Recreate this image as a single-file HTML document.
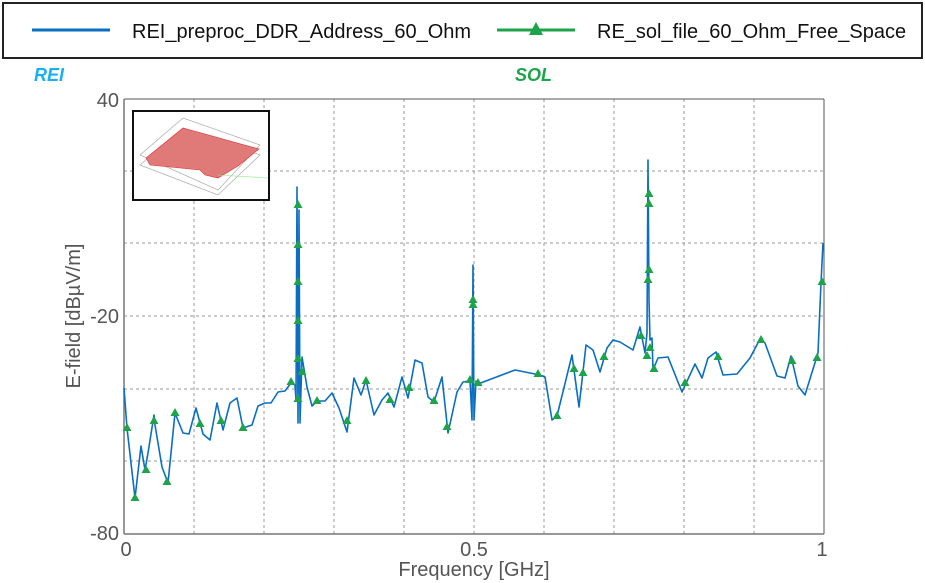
<!DOCTYPE html>
<html><head><meta charset="utf-8"><style>
body{margin:0;background:#fff;}
svg{display:block;font-family:"Liberation Sans",sans-serif;}
</style></head><body>
<svg width="925" height="583" viewBox="0 0 925 583">
<defs><path id="t" d="M0,-5 L4.5,3 L-4.5,3 Z" fill="#1ea34a"/></defs>
<rect x="3" y="3" width="919" height="55" fill="#fff" stroke="#222" stroke-width="2"/>
<line x1="32" y1="30" x2="110" y2="30" stroke="#0a6fc2" stroke-width="3"/>
<text x="132" y="38" font-size="20" fill="#111">REI_preproc_DDR_Address_60_Ohm</text>
<line x1="497" y1="30" x2="575" y2="30" stroke="#1ea34a" stroke-width="3"/>
<polygon points="536,22 543,35 529,35" fill="#1ea34a"/>
<text x="597" y="38" font-size="20" fill="#111">RE_sol_file_60_Ohm_Free_Space</text>
<text x="34" y="81" font-size="18" font-weight="bold" font-style="italic" fill="#1ab0ef">REI</text>
<text x="515" y="81" font-size="18" font-weight="bold" font-style="italic" fill="#1ea34a">SOL</text>
<g stroke="#999" stroke-width="1" stroke-dasharray="3,3">
<line x1="194" y1="99" x2="194" y2="534"/><line x1="264" y1="99" x2="264" y2="534"/><line x1="334" y1="99" x2="334" y2="534"/><line x1="404" y1="99" x2="404" y2="534"/><line x1="474" y1="99" x2="474" y2="534"/><line x1="544" y1="99" x2="544" y2="534"/><line x1="614" y1="99" x2="614" y2="534"/><line x1="684" y1="99" x2="684" y2="534"/><line x1="754" y1="99" x2="754" y2="534"/>
<line x1="124" y1="171" x2="824" y2="171"/><line x1="124" y1="243" x2="824" y2="243"/><line x1="124" y1="316" x2="824" y2="316"/><line x1="124" y1="389" x2="824" y2="389"/><line x1="124" y1="461" x2="824" y2="461"/>
</g>
<line x1="124" y1="99" x2="824" y2="99" stroke="#555"/>
<line x1="824" y1="99" x2="824" y2="534" stroke="#555"/>
<line x1="124" y1="99" x2="124" y2="534" stroke="#777" stroke-width="1.5"/>
<line x1="124" y1="534" x2="824" y2="534" stroke="#777" stroke-width="1.5"/>
<g font-size="20" fill="#555">
<text x="119" y="107" text-anchor="end">40</text>
<text x="119" y="323" text-anchor="end">-20</text>
<text x="119" y="540" text-anchor="end">-80</text>
<text x="126" y="556" text-anchor="middle">0</text>
<text x="474" y="556" text-anchor="middle">0.5</text>
<text x="822" y="556" text-anchor="middle">1</text>
<text x="474" y="576" text-anchor="middle">Frequency [GHz]</text>
<text transform="translate(80,316) rotate(-90)" text-anchor="middle">E-field [dBµV/m]</text>
</g>
<rect x="133" y="111" width="136" height="89" fill="#fff" stroke="#111" stroke-width="2"/>
<g stroke="#aaa" stroke-width="0.7" fill="none">
<polygon points="140,155 183,118 260,145 218,190"/>
<polygon points="140,165 183,128 260,155 218,195"/>
</g>
<polygon points="146,158 183,128 259,149 238,166 218,178 205,175 200,170 150,165" fill="#e07a78" stroke="#d33" stroke-width="0.6"/>
<line x1="218" y1="175" x2="268" y2="178" stroke="#8e8" stroke-width="0.6"/>
<polyline fill="none" stroke="#0a6fc2" stroke-width="1.6" stroke-linejoin="round" points="124,388 127,428 135,498 141,446 145,470 148,453 154,415 155,425 162,467 168,483 175,413 183,433 189,434 196,408 203,434 210,440 217,403 223,430 230,403 237,398 243,428 252,425 258,406 265,403 271,403 278,392 285,391 291,383 295,385 296,400 297,187 298,423 299,210 300,423 302,357 307,387 312,406 317,401 325,401 332,393 339,408 347,432 354,378 361,395 366,380 374,415 382,400 388,393 394,407 402,377 408,398 415,360 422,363 428,397 434,402 442,377 448,433 457,392 463,382 470,381 472,420 473,265 474,420 476,381 478,384 515,370 540,375 545,377 552,420 557,416 572,355 579,407 586,345 593,350 600,372 607,348 613,340 620,342 633,350 640,327 645,353 647,333 648,160 649,300 650,340 652,338 653,370 658,358 668,357 682,392 695,364 702,378 708,358 716,352 723,375 737,374 750,358 760,339 765,343 777,376 785,378 791,356 798,386 805,395 818,353 821,283 823,243"/>
<use href="#t" x="127" y="428"/><use href="#t" x="135" y="498"/><use href="#t" x="146" y="470"/><use href="#t" x="154" y="421"/><use href="#t" x="167" y="482"/><use href="#t" x="175" y="413"/><use href="#t" x="200" y="424"/><use href="#t" x="221" y="421"/><use href="#t" x="243" y="428"/><use href="#t" x="291" y="382"/><use href="#t" x="298" y="399"/><use href="#t" x="298" y="359"/><use href="#t" x="298" y="321"/><use href="#t" x="298" y="282"/><use href="#t" x="298" y="245"/><use href="#t" x="298" y="205"/><use href="#t" x="302" y="372"/><use href="#t" x="317" y="401"/><use href="#t" x="347" y="421"/><use href="#t" x="366" y="381"/><use href="#t" x="390" y="400"/><use href="#t" x="409" y="388"/><use href="#t" x="434" y="401"/><use href="#t" x="447" y="427"/><use href="#t" x="470" y="380"/><use href="#t" x="473" y="305"/><use href="#t" x="473" y="300"/><use href="#t" x="478" y="383"/><use href="#t" x="538" y="374"/><use href="#t" x="557" y="416"/><use href="#t" x="574" y="369"/><use href="#t" x="583" y="373"/><use href="#t" x="604" y="357"/><use href="#t" x="641" y="336"/><use href="#t" x="649" y="194"/><use href="#t" x="649" y="204"/><use href="#t" x="649" y="270"/><use href="#t" x="648" y="280"/><use href="#t" x="647" y="356"/><use href="#t" x="650" y="348"/><use href="#t" x="654" y="369"/><use href="#t" x="685" y="383"/><use href="#t" x="718" y="357"/><use href="#t" x="761" y="340"/><use href="#t" x="792" y="361"/><use href="#t" x="817" y="358"/><use href="#t" x="822" y="282"/>
</svg>
</body></html>
